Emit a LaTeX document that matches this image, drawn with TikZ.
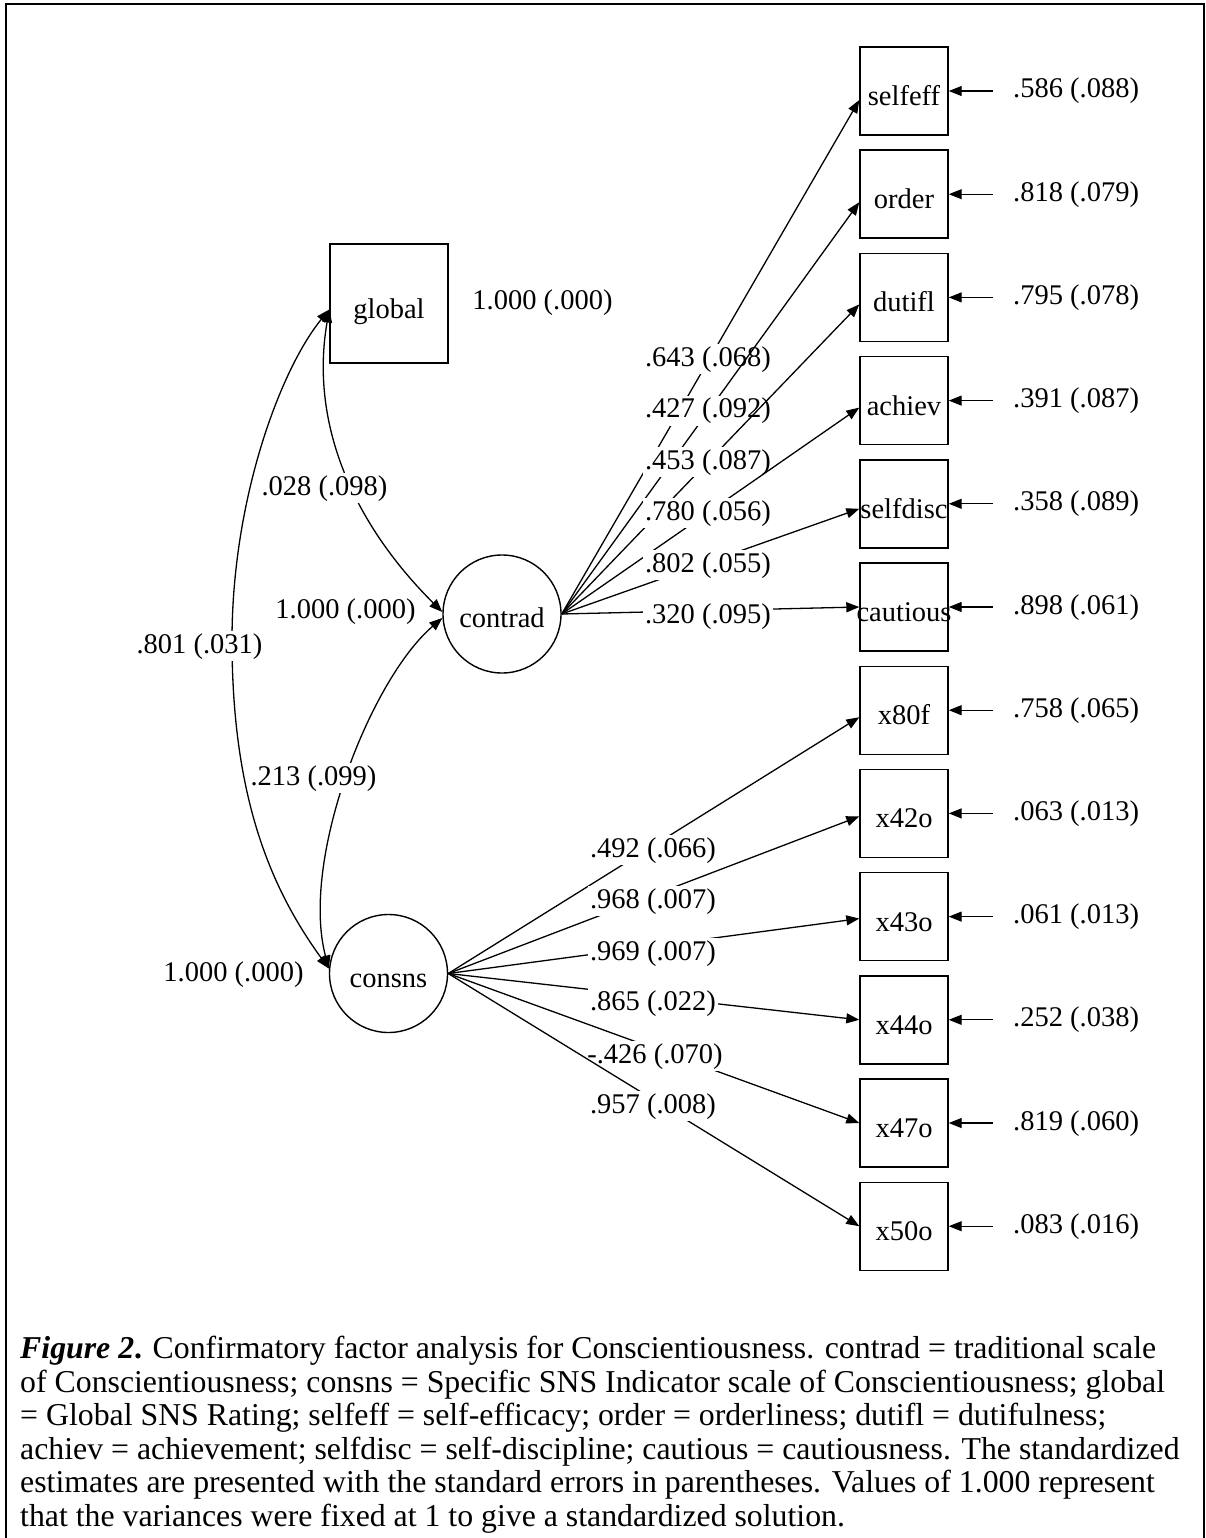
\documentclass[tikz,border=0pt]{standalone}
\usepackage{fontspec}
\setmainfont{Liberation Serif}
\usetikzlibrary{arrows.meta}

\begin{document}
\begin{tikzpicture}[x=1pt,y=-1pt]
\tikzset{
  every node/.style={font=\fontsize{28.5}{34}\selectfont},
  link/.style={line width=1.3pt},
  tip/.style={-{Triangle[length=13pt,width=10pt]}},
  dtip/.style={{Triangle[length=13pt,width=10pt]}-{Triangle[length=13pt,width=10pt]}},
  obs/.style={draw, line width=1.4pt, rectangle, minimum width=88pt, minimum height=88pt,
              inner sep=0pt, text height=29pt, text depth=0pt},
  gbox/.style={obs, minimum width=118pt, minimum height=119pt},
  lat/.style={draw, line width=1.4pt, circle, minimum size=118pt, inner sep=0pt,
              text height=27pt, text depth=0pt},
  est/.style={fill=white, inner sep=2pt, anchor=base},
  note/.style={inner sep=0pt, anchor=base},
  capline/.style={inner sep=0pt, anchor=base west, font=\fontsize{31.8}{33}\selectfont},
}
\useasboundingbox (0,0) rectangle (1206,1538);

% frame
\draw[line width=2pt] (6,1538) -- (6,4) -- (1204,4) -- (1204,1538);

% latent factors and the global rating
\node[gbox] (global) at (389,303.5) {global};
\node[lat] (contrad) at (502,614) {contrad};
\node[lat] (consns) at (388.5,973.5) {consns};

% indicators with residual variances (names may run past the box edges)
\foreach \n/\r [count=\i from 0] in {
  selfeff/.586 (.088), order/.818 (.079), dutifl/.795 (.078), achiev/.391 (.087),
  selfdisc/.358 (.089), cautious/.898 (.061), x80f/.758 (.065), x42o/.063 (.013),
  x43o/.061 (.013), x44o/.252 (.038), x47o/.819 (.060), x50o/.083 (.016)}{
  \pgfmathsetmacro\yy{91+103.2*\i}
  \node[obs] (\n) at (904,\yy) {\makebox[0pt]{\n}};
  \coordinate (e\n) at ([xshift=44pt]\n.east);
  \draw[link,tip] (e\n) -- (\n.east);
  \node[inner sep=0pt, anchor=base west] (r\n) at (1013,\yy+7) {\r};
}

% variances of the factors
\node[note] (vglobal) at (542.5,309) {1.000 (.000)};
\node[note] (vcontrad) at (345.5,618) {1.000 (.000)};
\node[note] (vconsns) at (233.5,981) {1.000 (.000)};

% loadings on contrad
\draw[link,tip] (contrad.east) -- ([yshift=-9pt]selfeff.west);
\node[est] (l1) at (708,366) {.643 (.068)};
\draw[link,tip] (contrad.east) -- ([yshift=-8pt]order.west);
\node[est] (l2) at (708,417.5) {.427 (.092)};
\draw[link,tip] (contrad.east) -- ([yshift=-7pt]dutifl.west);
\node[est] (l3) at (708,469) {.453 (.087)};
\draw[link,tip] (contrad.east) -- ([yshift=-7pt]achiev.west);
\node[est] (l4) at (708,520) {.780 (.056)};
\draw[link,tip] (contrad.east) -- ([yshift=-5pt]selfdisc.west);
\node[est] (l5) at (708,572) {.802 (.055)};
\draw[link,tip] (contrad.east) -- (cautious.west);
\node[est] (l6) at (708,623) {.320 (.095)};

% loadings on consns
\draw[link,tip] (consns.east) -- ([yshift=-7pt]x80f.west);
\node[est] (m1) at (653,857) {.492 (.066)};
\draw[link,tip] (consns.east) -- ([yshift=-3pt]x42o.west);
\node[est] (m2) at (653,908) {.968 (.007)};
\draw[link,tip] (consns.east) -- ([yshift=-2pt]x43o.west);
\node[est] (m3) at (653,960) {.969 (.007)};
\draw[link,tip] (consns.east) -- (x44o.west);
\node[est] (m4) at (653,1010) {.865 (.022)};
\draw[link,tip] (consns.east) -- (x47o.west);
\node[est] (m5) at (655,1063) {-.426 (.070)};
\draw[link,tip] (consns.east) -- (x50o.west);
\node[est] (m6) at (653,1113) {.957 (.008)};

% correlations
\coordinate (ga) at ([yshift=-6pt]global.west);
\coordinate (ca1) at ([yshift=2pt]contrad.west);
\coordinate (ca2) at ([yshift=-4pt]contrad.west);
\coordinate (sa) at ([yshift=5pt]consns.west);

\draw[link,dtip] (ga) .. controls (310,420) and (350,520) .. (ca1);
\node[est] (c1) at (324.5,495) {.028 (.098)};
\draw[link,dtip] (ca2) .. controls (370,680) and (300,860) .. (sa);
\node[est] (c2) at (313.5,785) {.213 (.099)};
\draw[link,dtip] (ga) .. controls (280,370) and (232,500) .. (232,640)
                      .. controls (232,800) and (272,890) .. (sa);
\node[est] (c3) at (199.5,653) {.801 (.031)};

% caption
\node[capline] (cap1) at (20,1358.5) {\textbf{\textit{Figure 2}.} Confirmatory factor analysis for Conscientiousness. contrad = traditional scale};
\node[capline] (cap2) at (20,1392) {of Conscientiousness; consns = Specific SNS Indicator scale of Conscientiousness; global};
\node[capline] (cap3) at (20,1425.5) {= Global SNS Rating; selfeff = self-efficacy; order = orderliness; dutifl = dutifulness;};
\node[capline] (cap4) at (20,1459) {achiev = achievement; selfdisc = self-discipline; cautious = cautiousness. The standardized};
\node[capline] (cap5) at (20,1492.5) {estimates are presented with the standard errors in parentheses. Values of 1.000 represent};
\node[capline] (cap6) at (20,1526) {that the variances were fixed at 1 to give a standardized solution.};
\end{tikzpicture}
\end{document}
